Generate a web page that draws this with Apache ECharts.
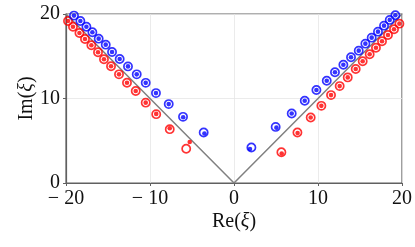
<!DOCTYPE html>
<html>
<head>
<meta charset="utf-8">
<script src="https://cdn.jsdelivr.net/npm/echarts@6/dist/echarts.min.js"></script>
<style>html,body{margin:0;padding:0;background:#fff}#c{width:415px;height:247px}</style>
</head>
<body>
<div id="c"></div>
<script>
// Tick labels
const xTicks = {"-20": "− 20", "-10": "− 10", "0": "0", "10": "10", "20": "20"};
const yTicks = {"0": "0", "10": "10", "20": "20"};

// Reference line Im = |Re|
const lineRe = [-20, 0, 20];
const lineIm = [20, 0, 20];

// Red: open circles
const redCircleRe = [-19.76, -19.17, -18.40, -17.74, -16.98, -16.19, -15.48, -14.64, -13.69, -12.74, -11.70, -10.51, -9.26, -7.65, -5.69,
  5.64, 7.55, 9.13, 10.40, 11.55, 12.58, 13.54, 14.49, 15.32, 16.15, 16.90, 17.62, 18.33, 19.05, 19.69];
const redCircleIm = [19.18, 18.50, 17.76, 17.05, 16.30, 15.47, 14.64, 13.81, 12.86, 11.86, 10.88, 9.51, 8.15, 6.37, 4.06,
  3.64, 5.98, 7.76, 9.13, 10.40, 11.47, 12.50, 13.49, 14.40, 15.23, 16.01, 16.77, 17.52, 18.20, 18.86];
// Red: filled dots
const redDotRe = [-19.76, -19.17, -18.40, -17.74, -16.98, -16.19, -15.48, -14.64, -13.69, -12.74, -11.70, -10.51, -9.26, -7.65, -5.27,
  5.68, 7.57, 9.13, 10.40, 11.55, 12.58, 13.54, 14.49, 15.32, 16.15, 16.90, 17.62, 18.33, 19.05, 19.69];
const redDotIm = [19.18, 18.50, 17.76, 17.05, 16.30, 15.47, 14.64, 13.81, 12.86, 11.86, 10.88, 9.51, 8.18, 6.48, 4.86,
  3.50, 5.92, 7.76, 9.13, 10.40, 11.47, 12.50, 13.49, 14.40, 15.23, 16.01, 16.77, 17.52, 18.20, 18.86];

// Blue: open circles
const blueCircleRe = [-19.05, -18.29, -17.57, -16.86, -16.11, -15.27, -14.52, -13.61, -12.62, -11.58, -10.51, -9.29, -7.77, -6.07, -3.61,
  2.07, 4.96, 6.87, 8.42, 9.81, 11.04, 12.02, 13.02, 13.93, 14.85, 15.64, 16.39, 17.14, 17.86, 18.54, 19.21];
const blueCircleIm = [19.81, 19.18, 18.50, 17.84, 17.08, 16.37, 15.50, 14.67, 13.80, 12.86, 11.85, 10.64, 9.34, 7.83, 5.98,
  4.20, 6.64, 8.23, 9.73, 11.00, 12.10, 13.10, 14.00, 14.88, 15.66, 16.49, 17.20, 17.91, 18.62, 19.30, 19.86];
// Blue: filled dots
const blueDotRe = [-19.05, -18.29, -17.57, -16.86, -16.11, -15.27, -14.52, -13.61, -12.62, -11.58, -10.51, -9.29, -7.77, -6.05, -3.52,
  1.90, 5.05, 6.87, 8.42, 9.81, 11.04, 12.02, 13.02, 13.93, 14.85, 15.64, 16.39, 17.14, 17.86, 18.54, 19.21];
const blueDotIm = [19.81, 19.18, 18.50, 17.84, 17.08, 16.37, 15.50, 14.67, 13.80, 12.86, 11.85, 10.64, 9.34, 7.78, 5.86,
  4.03, 6.55, 8.23, 9.73, 11.00, 12.10, 13.10, 14.00, 14.88, 15.66, 16.49, 17.20, 17.91, 18.62, 19.30, 19.86];

const zip = (a, b) => a.map((v, i) => [v, b[i]]);
const FONT = '"Liberation Serif", "DejaVu Serif", serif';

const chart = echarts.init(document.getElementById('c'), null, {renderer: 'canvas'});
const circleSeries = (re, im, color) => ({
  type: 'scatter', data: zip(re, im), symbol: 'circle', symbolSize: 8.2,
  itemStyle: {color: 'rgba(255,255,255,0)', borderColor: color, borderWidth: 1.7},
  z: 3, clip: true, silent: true
});
const dotSeries = (re, im, color) => ({
  type: 'scatter', data: zip(re, im), symbol: 'circle', symbolSize: 4.6,
  itemStyle: {color: color, borderWidth: 0},
  z: 4, clip: true, silent: true
});

chart.setOption({
  animation: false,
  grid: {left: 66, right: 13, top: 14, bottom: 64, show: true, borderColor: '#606060', borderWidth: 1.2, backgroundColor: 'transparent'},
  xAxis: {
    type: 'value', min: -20, max: 20, interval: 10,
    name: '{n|Re(}{i|ξ}{n|)}', nameLocation: 'middle', nameGap: 29, nameMoveOverlap: false,
    nameTextStyle: {rich: {n: {fontFamily: FONT, fontSize: 20, color: '#111'}, i: {fontFamily: FONT, fontSize: 20, fontStyle: 'italic', color: '#111'}}},
    axisLine: {show: true, onZero: false, lineStyle: {color: '#606060', width: 1.2}},
    axisTick: {show: true, inside: false, length: 3, lineStyle: {color: '#606060'}},
    axisLabel: {fontFamily: FONT, fontSize: 20, color: '#111', margin: 6, formatter: v => xTicks[String(v)]},
    splitLine: {show: true, lineStyle: {color: '#e6e6e6', width: 0.8}}
  },
  yAxis: {
    type: 'value', min: 0, max: 20, interval: 10,
    name: '{n|Im(}{i|ξ}{n|)}', nameLocation: 'middle', nameGap: 29, nameRotate: 90, nameMoveOverlap: false,
    nameTextStyle: {rich: {n: {fontFamily: FONT, fontSize: 20, color: '#111'}, i: {fontFamily: FONT, fontSize: 20, fontStyle: 'italic', color: '#111'}}},
    axisLine: {show: true, onZero: false, lineStyle: {color: '#606060', width: 1.2}},
    axisTick: {show: true, inside: false, length: 3, lineStyle: {color: '#606060'}},
    axisLabel: {fontFamily: FONT, fontSize: 20, color: '#111', margin: 6, formatter: v => yTicks[String(v)]},
    splitLine: {show: true, lineStyle: {color: '#e6e6e6', width: 0.8}}
  },
  series: [
    {type: 'line', data: zip(lineRe, lineIm), symbol: 'none', lineStyle: {color: '#808080', width: 1.5}, z: 2, silent: true},
    circleSeries(redCircleRe, redCircleIm, '#ff0000'),
    dotSeries(redDotRe, redDotIm, '#ff0000'),
    circleSeries(blueCircleRe, blueCircleIm, '#0000ff'),
    dotSeries(blueDotRe, blueDotIm, '#0000ff')
  ]
});
</script>
</body>
</html>
